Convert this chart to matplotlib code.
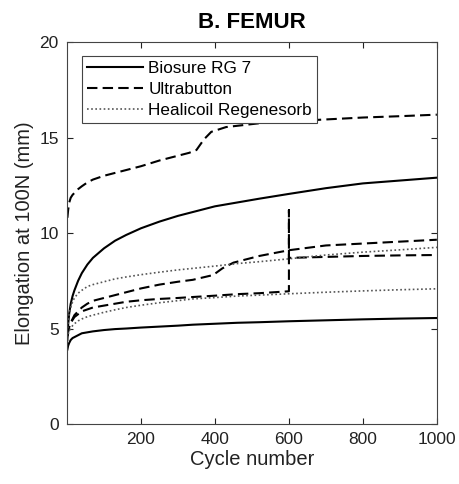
import matplotlib.pyplot as plt

plt.rcParams['font.family'] = ['Liberation Sans', 'DejaVu Sans']

# cycle numbers shared by most curves
cycles = [1, 3, 6, 10, 15, 20, 30, 40, 55, 70, 100, 130, 160, 200, 250, 300, 340, 400, 460, 520, 600, 700, 800, 900, 1000]

biosure_hi = [4.4, 5.2, 5.8, 6.3, 6.7, 7.0, 7.5, 7.9, 8.35, 8.7, 9.2, 9.6, 9.9, 10.25, 10.6, 10.9, 11.1, 11.4, 11.6, 11.8, 12.05, 12.35, 12.6, 12.75, 12.9]
biosure_lo = [3.9, 4.1, 4.25, 4.4, 4.5, 4.55, 4.65, 4.75, 4.8, 4.85, 4.92, 4.97, 5.0, 5.05, 5.1, 5.15, 5.2, 5.25, 5.3, 5.33, 5.38, 5.43, 5.48, 5.52, 5.55]

heali_hi = [4.8, 5.4, 5.8, 6.1, 6.4, 6.6, 6.85, 7.0, 7.2, 7.3, 7.45, 7.6, 7.7, 7.82, 7.95, 8.07, 8.15, 8.27, 8.4, 8.5, 8.65, 8.85, 9.0, 9.12, 9.25]
heali_lo = [4.5, 4.7, 4.85, 5.0, 5.15, 5.25, 5.4, 5.5, 5.62, 5.7, 5.85, 5.98, 6.1, 6.22, 6.35, 6.46, 6.55, 6.62, 6.7, 6.75, 6.82, 6.9, 6.97, 7.03, 7.08]

ultra_hi_x = [1, 3, 6, 10, 15, 20, 30, 40, 55, 70, 100, 130, 160, 200, 250, 300, 330, 350, 370, 390, 430, 520, 600, 700, 800, 900, 1000]
ultra_hi = [10.8, 11.2, 11.6, 11.85, 12.0, 12.1, 12.3, 12.45, 12.65, 12.8, 13.0, 13.15, 13.3, 13.5, 13.8, 14.05, 14.2, 14.35, 14.9, 15.3, 15.55, 15.75, 15.85, 15.95, 16.05, 16.12, 16.2]

ultra_mid_x = [1, 3, 6, 10, 15, 20, 30, 40, 55, 70, 100, 130, 160, 200, 250, 300, 340, 395, 420, 450, 520, 600, 700, 800, 900, 1000]
ultra_mid = [4.6, 4.85, 5.1, 5.3, 5.5, 5.7, 5.9, 6.1, 6.3, 6.45, 6.6, 6.75, 6.9, 7.1, 7.3, 7.45, 7.55, 7.8, 8.15, 8.45, 8.8, 9.1, 9.35, 9.45, 9.55, 9.65]

ultra_lo_x = [1, 3, 6, 10, 15, 20, 30, 40, 55, 70, 100, 130, 160, 200, 250, 300, 340, 400, 460, 520, 600, 600, 600, 700, 800, 900, 1000]
ultra_lo = [4.6, 4.85, 5.1, 5.3, 5.45, 5.6, 5.75, 5.9, 6.0, 6.1, 6.2, 6.3, 6.4, 6.48, 6.55, 6.6, 6.65, 6.72, 6.8, 6.85, 6.95, 11.2, 8.7, 8.75, 8.8, 8.83, 8.85]

fig = plt.figure(figsize=(4.6, 4.84), dpi=100)
ax = fig.add_axes([0.1457, 0.124, 0.804, 0.789])

dash = (5, 2.5)
l1, = ax.plot(cycles, biosure_hi, color='black', lw=1.5, label='Biosure RG 7')
ax.plot(cycles, biosure_lo, color='black', lw=1.5)
l2, = ax.plot(ultra_hi_x, ultra_hi, color='black', lw=1.5, dashes=dash, label='Ultrabutton')
ax.plot(ultra_mid_x, ultra_mid, color='black', lw=1.5, dashes=dash)
ax.plot(ultra_lo_x, ultra_lo, color='black', lw=1.5, dashes=dash)
l3, = ax.plot(cycles, heali_hi, color='#555555', lw=1.2, dashes=(1, 1.5), label='Healicoil Regenesorb')
ax.plot(cycles, heali_lo, color='#555555', lw=1.2, dashes=(1, 1.5))

ax.set_xlim(0, 1000)
ax.set_ylim(0, 20)
ax.set_xticks([200, 400, 600, 800, 1000])
ax.set_yticks([0, 5, 10, 15, 20])
ax.tick_params(direction='in', top=True, right=True, labelsize=12.5, colors='#222222', length=4, pad=6)
for s in ax.spines.values():
    s.set_color('#444444')
    s.set_linewidth(0.8)

ax.set_xlabel('Cycle number', fontsize=14.5, color='#222222', labelpad=2)
ax.set_ylabel('Elongation at 100N (mm)', fontsize=14.5, color='#222222')
ax.set_title('B. FEMUR', fontsize=16, fontweight='bold', pad=10)

leg = ax.legend(handles=[l1, l2, l3], loc='upper left', bbox_to_anchor=(0.04, 0.963),
                fontsize=12.3, fancybox=False, framealpha=1, edgecolor='#444444',
                borderpad=0.3, labelspacing=0.35, handlelength=3.3, handletextpad=0.3,
                borderaxespad=0)
leg.get_frame().set_linewidth(0.8)

fig.savefig('out.png', dpi=100)
